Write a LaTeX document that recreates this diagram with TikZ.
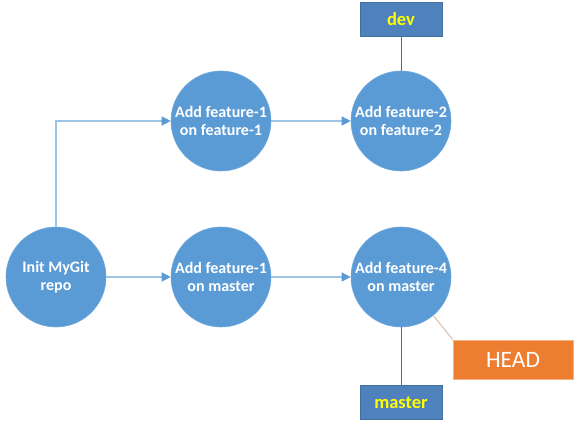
\documentclass[tikz,border=0pt]{standalone}
\usepackage{fontspec}
\setmainfont{Carlito}
\usetikzlibrary{arrows.meta}
\definecolor{cfill}{HTML}{5B9BD5}
\definecolor{cedge}{HTML}{6FA8DC}
\definecolor{lineblue}{HTML}{9DC3E6}
\definecolor{bfill}{HTML}{4F81BD}
\definecolor{bedge}{HTML}{41719C}
\definecolor{tagyellow}{HTML}{FFFF00}
\definecolor{headfill}{HTML}{ED7D31}
\definecolor{headedge}{HTML}{F4B183}
\definecolor{headline}{HTML}{D9C3B0}
\tikzset{
  commit/.style={circle, fill=cfill, draw=cedge, line width=0.6pt, minimum size=100pt, inner sep=0pt,
    text=white, font=\fontsize{16}{18.5}\selectfont\bfseries, align=center},
  branch/.style={rectangle, fill=bfill, draw=bedge, line width=0.8pt, minimum width=82pt, minimum height=34pt,
    inner sep=0pt, text=tagyellow, font=\fontsize{18.5}{20}\selectfont\bfseries},
  headbox/.style={rectangle, fill=headfill, draw=headedge, line width=0.6pt, minimum width=120pt, minimum height=39pt,
    inner sep=0pt, text=white, font=\fontsize{23.5}{25}\selectfont},
  flow/.style={draw=lineblue, line width=1.3pt, -{Triangle[length=9pt,width=9pt,color=cfill]}},
  tie/.style={draw=bedge, line width=1pt},
  headtie/.style={draw=headline, line width=1pt},
}
\begin{document}
\begin{tikzpicture}[x=1pt,y=-1pt]
\useasboundingbox (0,0) rectangle (579,427);
\node[commit] (init) at (56,277) {Init MyGit\\repo};
\node[commit] (f1m) at (221,277) {Add feature-1\\on master};
\node[commit] (f4) at (401,277) {Add feature-4\\on master};
\node[commit] (f1) at (221,121) {Add feature-1\\on feature-1};
\node[commit] (f2) at (401,121) {Add feature-2\\on feature-2};
\node[branch] (dev) at (401,19) {dev};
\node[branch] (master) at (401,402.5) {master};
\node[headbox] (head) at (513,359.5) {HEAD};
\draw[flow] (init) -- (f1m);
\draw[flow] (f1m) -- (f4);
\draw[flow] (init.north) |- (f1.west);
\draw[flow] (f1) -- (f2);
\draw[tie] (dev) -- (f2);
\draw[tie] (f4) -- (master);
\draw[headtie] (f4.-50) -- (head.north west);
\end{tikzpicture}
\end{document}
